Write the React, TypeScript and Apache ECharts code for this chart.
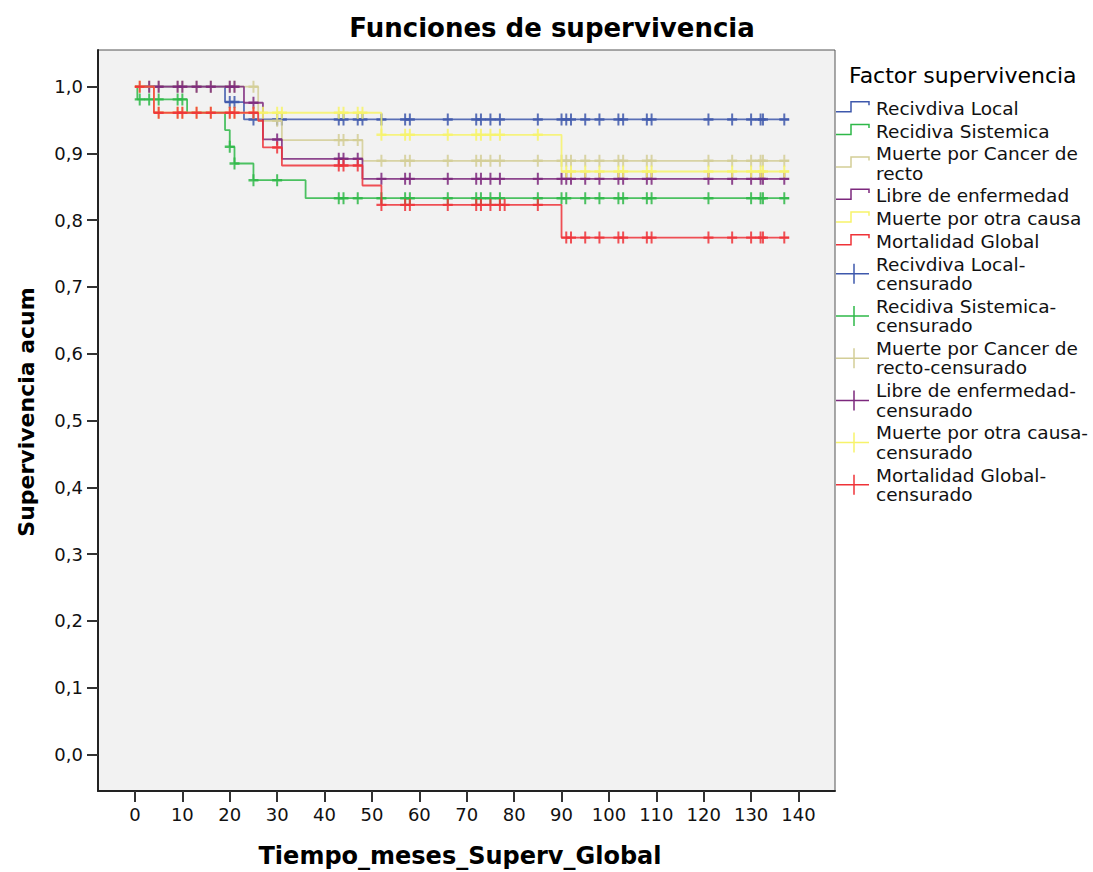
import React, { useEffect, useRef } from 'react';
import * as echarts from 'echarts';

// ---- Axis ticks ----
const xTicks = [0, 10, 20, 30, 40, 50, 60, 70, 80, 90, 100, 110, 120, 130, 140];
const yTicks = [0, 0.1, 0.2, 0.3, 0.4, 0.5, 0.6, 0.7, 0.8, 0.9, 1.0];

// ---- Series names / colours ----
const seriesNames = [
  'Recivdiva Local',
  'Recidiva Sistemica',
  'Muerte por Cancer de recto',
  'Libre de enfermedad',
  'Muerte por otra causa',
  'Mortalidad Global',
];
const seriesColors = ['#3E58AC', '#2EB848', '#D3CE97', '#7C287D', '#F7F36A', '#EF3338'];

// ---- Kaplan-Meier steps (time in months, cumulative survival) ----
const localTimes = [0, 19, 23, 138];
const localSurv = [1, 0.977, 0.951, 0.951];
const localCens = [20, 21, 25, 30, 31, 43, 44, 47, 48, 52, 57, 58, 66, 72, 73, 75, 77, 85, 90, 91, 92, 95, 98, 102, 103, 108, 109, 121, 126, 130, 132, 132.5, 137];

const sistTimes = [0, 0.5, 11, 19, 20, 21, 25, 36, 138];
const sistSurv = [1, 0.981, 0.961, 0.935, 0.91, 0.885, 0.86, 0.833, 0.833];
const sistCens = [1, 3, 5, 9, 10, 20, 21, 25, 30, 43, 44, 47, 52, 57, 58, 66, 72, 73, 75, 77, 85, 90, 91, 95, 98, 102, 103, 108, 109, 121, 130, 132, 132.5, 137];

const cancerTimes = [0, 26, 31, 48, 138];
const cancerSurv = [1, 0.949, 0.92, 0.889, 0.889];
const cancerCens = [3, 5, 9, 10, 13, 16, 20, 21, 25, 30, 43, 44, 47, 52, 57, 58, 66, 72, 73, 75, 77, 85, 90, 91, 92, 95, 98, 102, 103, 108, 109, 121, 126, 130, 132, 132.5, 137];

const libreTimes = [0, 23, 27, 31, 48, 138];
const libreSurv = [1, 0.976, 0.921, 0.892, 0.862, 0.862];
const libreCens = [3, 5, 9, 10, 13, 16, 20, 21, 25, 30, 43, 44, 47, 52, 57, 58, 66, 72, 73, 75, 77, 85, 90, 91, 92, 95, 98, 102, 103, 108, 109, 121, 126, 130, 132, 132.5, 137];

const otraTimes = [0, 4, 52, 90, 138];
const otraSurv = [1, 0.961, 0.928, 0.873, 0.873];
const otraCens = [1, 5, 9, 10, 13, 16, 20, 21, 25, 27, 30, 31, 43, 44, 47, 48, 52, 57, 58, 66, 72, 73, 75, 77, 85, 91, 92, 95, 98, 102, 103, 108, 109, 121, 126, 130, 132, 132.5, 137];

const globalTimes = [0, 4, 26, 27, 31, 48, 52, 90, 138];
const globalSurv = [1, 0.961, 0.949, 0.909, 0.882, 0.852, 0.823, 0.774, 0.774];
const globalCens = [1, 5, 9, 10, 13, 16, 20, 21, 25, 30, 43, 44, 47, 52, 57, 58, 66, 72, 73, 75, 77, 78, 85, 91, 92, 95, 98, 102, 103, 108, 109, 121, 126, 130, 132, 132.5, 137];

// ---- Legend labels ----
const legendLabels = [
  ['Recivdiva Local'],
  ['Recidiva Sistemica'],
  ['Muerte por Cancer de', 'recto'],
  ['Libre de enfermedad'],
  ['Muerte por otra causa'],
  ['Mortalidad Global'],
  ['Recivdiva Local-', 'censurado'],
  ['Recidiva Sistemica-', 'censurado'],
  ['Muerte por Cancer de', 'recto-censurado'],
  ['Libre de enfermedad-', 'censurado'],
  ['Muerte por otra causa-', 'censurado'],
  ['Mortalidad Global-', 'censurado'],
];

const curves = [
  { t: localTimes, s: localSurv, c: localCens },
  { t: sistTimes, s: sistSurv, c: sistCens },
  { t: cancerTimes, s: cancerSurv, c: cancerCens },
  { t: libreTimes, s: libreSurv, c: libreCens },
  { t: otraTimes, s: otraSurv, c: otraCens },
  { t: globalTimes, s: globalSurv, c: globalCens },
];

function survAt(times: number[], surv: number[], t: number): number {
  let v = surv[0];
  for (let i = 0; i < times.length; i++) {
    if (times[i] <= t) v = surv[i];
  }
  return v;
}

const FONT = 'DejaVu Sans, Noto Sans, sans-serif';
const PLUS = 'path://M4,0H6V4H10V6H6V10H4V6H0V4H4Z';

export default function App() {
  const ref = useRef<HTMLDivElement>(null);
  useEffect(() => {
    if (!ref.current) return;
    const chart = echarts.init(ref.current, undefined, { renderer: 'svg' });

    const series: any[] = [];
    curves.forEach((cv, i) => {
      series.push({
        type: 'line',
        name: seriesNames[i],
        data: cv.t.map((t, k) => [t, cv.s[k]]),
        step: 'end',
        symbol: 'none',
        showSymbol: false,
        lineStyle: { color: seriesColors[i], width: 1.8, opacity: 0.85 },
        z: 2 + i,
        silent: true,
      });
    });
    curves.forEach((cv, i) => {
      series.push({
        type: 'scatter',
        name: seriesNames[i] + '-censurado',
        data: cv.c.map((t) => [t, survAt(cv.t, cv.s, t)]),
        symbol: PLUS,
        symbolSize: [10, 12],
        itemStyle: { color: seriesColors[i], opacity: 0.85 },
        z: 2 + i,
        silent: true,
      });
    });

    const graphics: any[] = [];
    graphics.push({
      type: 'text',
      x: 552,
      y: 28,
      style: {
        text: 'Funciones de supervivencia',
        font: `bold 26px ${FONT}`,
        fill: '#000',
        align: 'center',
        verticalAlign: 'middle',
      },
    });
    graphics.push({
      type: 'text',
      x: 460,
      y: 856,
      style: {
        text: 'Tiempo_meses_Superv_Global',
        font: `bold 24px ${FONT}`,
        fill: '#000',
        align: 'center',
        verticalAlign: 'middle',
      },
    });
    graphics.push({
      type: 'text',
      x: 26,
      y: 412,
      rotation: Math.PI / 2,
      style: {
        text: 'Supervivencia acum',
        font: `bold 22px ${FONT}`,
        fill: '#000',
        align: 'center',
        verticalAlign: 'middle',
      },
    });
    graphics.push({
      type: 'text',
      x: 849,
      y: 75,
      style: {
        text: 'Factor supervivencia',
        font: `22px ${FONT}`,
        fill: '#000',
        align: 'left',
        verticalAlign: 'middle',
      },
    });

    let yCur = 97;
    legendLabels.forEach((lines, idx) => {
      const h = 22.7 + 19.5 * (lines.length - 1);
      const c = yCur + h / 2;
      const color = seriesColors[idx % 6];
      if (idx < 6) {
        graphics.push({
          type: 'polyline',
          shape: {
            points: [
              [836, c + 3.4],
              [851, c + 3.4],
              [851, c - 6.6],
              [869, c - 6.6],
              [869, c - 3],
            ],
          },
          style: { stroke: color, lineWidth: 1.5, fill: 'none' },
        });
      } else {
        graphics.push({
          type: 'line',
          shape: { x1: 836, y1: c, x2: 869, y2: c },
          style: { stroke: color, lineWidth: 1.5 },
        });
        graphics.push({
          type: 'line',
          shape: { x1: 854, y1: c - 10, x2: 854, y2: c + 10 },
          style: { stroke: color, lineWidth: 1.5 },
        });
      }
      graphics.push({
        type: 'text',
        x: 876,
        y: c,
        style: {
          text: lines.join('\n'),
          font: `18.5px ${FONT}`,
          lineHeight: 19.5,
          fill: '#111',
          align: 'left',
          verticalAlign: 'middle',
        },
      });
      yCur += h;
    });

    chart.setOption({
      animation: false,
      backgroundColor: '#ffffff',
      grid: {
        left: 98,
        top: 50,
        right: 258,
        bottom: 81,
        show: true,
        backgroundColor: '#f2f2f2',
        borderColor: '#555',
        borderWidth: 1,
        containLabel: false,
      },
      xAxis: {
        type: 'value',
        min: -7.8,
        max: 147.7,
        splitLine: { show: false },
        axisLine: { show: true, onZero: false, lineStyle: { color: '#222', width: 2 } },
        axisTick: { show: true, customValues: xTicks, length: 11, lineStyle: { color: '#333', width: 2 } },
        axisLabel: {
          customValues: xTicks,
          fontSize: 18,
          fontFamily: 'DejaVu Sans',
          color: '#111',
          margin: 14,
        },
      },
      yAxis: {
        type: 'value',
        min: -0.055,
        max: 1.055,
        splitLine: { show: false },
        axisLine: { show: true, onZero: false, lineStyle: { color: '#222', width: 2 } },
        axisTick: { show: true, customValues: yTicks, length: 11, lineStyle: { color: '#333', width: 2 } },
        axisLabel: {
          customValues: yTicks,
          fontSize: 18,
          fontFamily: 'DejaVu Sans',
          color: '#111',
          margin: 15,
          formatter: (v: number) => v.toFixed(1).replace('.', ','),
        },
      },
      series,
      graphic: graphics,
    });

    return () => {
      chart.dispose();
    };
  }, []);

  return (
    <div
      ref={ref}
      style={{ position: 'fixed', left: 0, top: 0, width: '1093px', height: '872px', background: '#fff' }}
    />
  );
}
